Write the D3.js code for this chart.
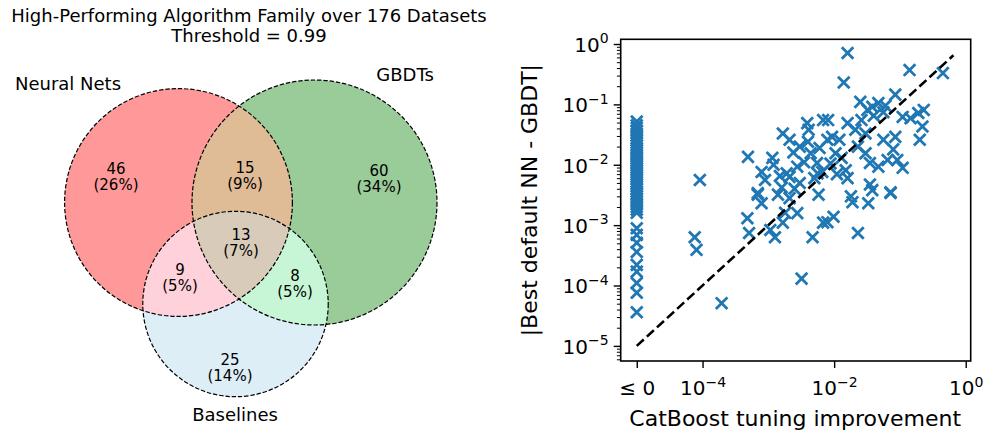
<!DOCTYPE html>
<html>
<head>
<meta charset="utf-8">
<script src="https://cdn.jsdelivr.net/npm/d3@7"></script>
<style>
  body { margin: 0; background: #fff; }
  text { font-family: "DejaVu Sans", sans-serif; fill: #000; }
</style>
</head>
<body>
<svg id="chart" width="985" height="433"></svg>
<script>
// ---------- Venn data
const setNames = ['Neural Nets', 'GBDTs', 'Baselines']
const regionKeys = ['100', '010', '001', '110', '101', '011', '111']
const regionCounts = [46, 60, 25, 15, 9, 8, 13]
const totalDatasets = 176
const threshold = 0.99

// ---------- Scatter data: [CatBoost tuning improvement, |best default NN - GBDT|]
// datasets where tuning did not improve (<= 0) only have a gap value
const zeroImprovementGap = [5.2e-2, 4.5e-2, 4.1e-2, 3.7e-2, 3.3e-2, 3.0e-2, 2.7e-2, 2.5e-2,
  2.3e-2, 2.1e-2, 1.9e-2, 1.75e-2, 1.6e-2, 1.45e-2, 1.35e-2, 1.25e-2, 1.15e-2, 1.05e-2,
  9.6e-3, 8.8e-3, 8.1e-3, 7.4e-3, 6.8e-3, 6.2e-3, 5.7e-3, 5.2e-3, 4.8e-3, 4.4e-3, 4.0e-3,
  3.6e-3, 3.3e-3, 3.0e-3, 2.7e-3, 2.45e-3, 2.2e-3, 2.0e-3, 1.8e-3, 1.6e-3,
  8.9e-4, 6.9e-4, 5.1e-4, 3.6e-4, 2.2e-4, 1.7e-4, 1.1e-4, 7.6e-5, 3.6e-5]
const tunedPoints = [
  [9.1e-5, 5.6e-3], [7.6e-5, 6.3e-4], [8.1e-5, 3.9e-4], [1.95e-4, 5.1e-5], [3.2e-3, 1.3e-4],
  [4.8e-4, 1.3e-3], [5.1e-4, 7.4e-4], [1.07e-3, 8.3e-4], [1.26e-3, 6.3e-4], [1.66e-3, 1.1e-3],
  [2.75e-3, 1.58e-3], [4.7e-3, 6.3e-4], [6.8e-3, 1.1e-3], [6.9e-4, 3.2e-3], [7.9e-4, 2.3e-3],
  [1.4e-3, 3.2e-3], [2.1e-3, 2.8e-3], [5.8e-3, 3.2e-3], [7.9e-3, 1.12e-3], [9.8e-3, 1.38e-3],
  [1.9e-2, 2.4e-3], [3.3e-2, 2.3e-3], [7.2e-2, 3.4e-3], [2.3e-2, 7.4e-4], [3.8e-2, 3.8e-3],
  [4.9e-4, 1.35e-2], [1.15e-3, 1.3e-2], [1.66e-3, 3.3e-2], [7.9e-4, 7.6e-3], [8.9e-4, 5.6e-3],
  [6.9e-4, 3.4e-3], [3.9e-3, 4.9e-2], [6.8e-3, 5.5e-2], [2.1e-3, 2.6e-2], [3.0e-3, 2.0e-2],
  [1.9e-3, 7.2e-3], [2.75e-3, 9.3e-3], [4.4e-3, 1.55e-2], [5.5e-3, 1.07e-2], [6.6e-3, 7.6e-3],
  [3.0e-3, 5.0e-3], [4.1e-3, 3.8e-2], [7.9e-3, 2.6e-2], [1.6e-3, 4.2e-3], [2.1e-3, 6.3e-3],
  [1.6e-2, 0.71], [1.4e-2, 0.23], [0.14, 0.37], [0.45, 0.33], [2.5e-2, 0.11],
  [3.8e-2, 9.1e-2], [4.7e-2, 0.105], [8.5e-2, 0.145], [5.6e-2, 7.4e-2], [3.2e-2, 8.1e-2],
  [0.19, 7.2e-2], [0.145, 5.9e-2], [0.23, 8.1e-2], [0.22, 4.3e-2], [0.20, 2.6e-2],
  [0.11, 6.2e-2], [8.1e-3, 5.5e-2], [1.6e-2, 4.9e-2], [9.3e-3, 2.9e-2], [1.2e-2, 2.6e-2],
  [2.1e-2, 3.8e-2], [3.0e-2, 3.3e-2], [2.3e-2, 2.0e-2], [3.0e-2, 1.55e-2], [5.6e-2, 2.6e-2],
  [8.5e-2, 2.9e-2], [7.9e-2, 1.8e-2], [9.1e-2, 1.2e-2], [0.11, 8.9e-3], [6.5e-2, 1.2e-2],
  [4.7e-2, 9.3e-3], [3.5e-2, 1.07e-2], [1.5e-2, 8.1e-3], [1.6e-2, 6.0e-3], [3.5e-2, 4.7e-3],
  [7.2e-2, 3.5e-3], [1.8e-2, 3.0e-3], [1.05e-2, 1.55e-2], [5.6e-3, 7.2e-3],
  [1.2e-3, 1.0e-2], [1.5e-3, 6.5e-3], [2.4e-3, 1.6e-2], [3.5e-3, 1.1e-2], [4.0e-3, 2.4e-2],
  [5.0e-3, 6.0e-3], [6.0e-3, 1.9e-2], [2.5e-3, 4.0e-3], [8.8e-3, 1.05e-2], [1.3e-2, 1.3e-2],
  [2.6e-2, 5.5e-2], [4.0e-2, 6.5e-2], [6.0e-2, 9.5e-2], [1.1e-2, 7.0e-3], [1.8e-3, 1.6e-3]
]
const diagonalEnds = [1e-5, 0.65]
const zeroFloor = 1e-5
const xTickValues = [1e-5, 1e-4, 1e-2, 1]
const yTickValues = [1, 1e-1, 1e-2, 1e-3, 1e-4, 1e-5]
const xLabel = 'CatBoost tuning improvement'
const yLabel = '|Best default NN - GBDT|'

const svg = d3.select('#chart')

// ---------- Venn
const setSizes = setNames.map((n, s) =>
  d3.sum(regionKeys.map((k, i) => k[s] === '1' ? regionCounts[i] : 0)))

const vennCenters = [[178.5, 202.5], [314.5, 202.5], [235.5, 304]]
const radius = d3.scaleSqrt().domain([0, d3.max(setSizes)]).range([0, 122.5])
const regionColors = {
  '100': '#ff9999', '010': '#99cc99', '001': '#ddeef6',
  '110': '#dfbb96', '101': '#ffd1da', '011': '#c6f6d5', '111': '#d9cbb9'
}
const regionLabelPos = {
  '100': [116, 168], '010': [379, 170], '001': [230, 359],
  '110': [245, 167], '101': [180, 269], '011': [295, 275], '111': [241, 234]
}
const setLabelPos = [[68, 89.5], [405, 80.5], [235, 420.5]]

const defs = svg.append('defs')
setNames.forEach((n, s) => {
  defs.append('clipPath').attr('id', 'clip' + s)
    .append('circle')
    .attr('cx', vennCenters[s][0]).attr('cy', vennCenters[s][1])
    .attr('r', radius(setSizes[s]))
})

const venn = svg.append('g')
regionKeys.forEach(k => {
  const sets = [0, 1, 2].filter(s => k[s] === '1')
  let g = venn
  sets.slice(1).forEach(s => { g = g.append('g').attr('clip-path', `url(#clip${s})`) })
  const s0 = sets[0]
  g.append('circle')
    .attr('cx', vennCenters[s0][0]).attr('cy', vennCenters[s0][1])
    .attr('r', radius(setSizes[s0]))
    .attr('fill', regionColors[k])
})

venn.selectAll('circle.outline')
  .data(setNames)
  .enter()
  .append('circle')
  .attr('class', 'outline')
  .attr('cx', (d, s) => vennCenters[s][0])
  .attr('cy', (d, s) => vennCenters[s][1])
  .attr('r', (d, s) => radius(setSizes[s]))
  .attr('fill', 'none')
  .attr('stroke', '#000')
  .attr('stroke-width', 1.2)
  .attr('stroke-dasharray', '4.4,1.9')

regionKeys.forEach((k, i) => {
  const [x, y] = regionLabelPos[k]
  const pct = Math.round(regionCounts[i] / totalDatasets * 100)
  const t = venn.append('text').attr('text-anchor', 'middle').style('font-size', '15px')
  t.append('tspan').attr('x', x).attr('y', y + 5.5).text(regionCounts[i])
  t.append('tspan').attr('x', x).attr('y', y + 22).text(`(${pct}%)`)
})

venn.selectAll('text.setlabel')
  .data(setNames)
  .enter()
  .append('text')
  .attr('class', 'setlabel')
  .attr('x', (d, s) => setLabelPos[s][0])
  .attr('y', (d, s) => setLabelPos[s][1])
  .attr('text-anchor', 'middle')
  .style('font-size', '18px')
  .text(d => d)

const title = svg.append('text').attr('text-anchor', 'middle').style('font-size', '18px')
title.append('tspan').attr('x', 249).attr('y', 21.5)
  .text(`High-Performing Algorithm Family over ${totalDatasets} Datasets`)
title.append('tspan').attr('x', 249).attr('y', 41.5).text(`Threshold = ${threshold}`)

// ---------- Scatter
const plot = { left: 620.7, right: 970.7, top: 39.3, bottom: 361 }
const x = d3.scaleLog().domain([5.7e-6, 1.19]).range([plot.left, plot.right])
const y = d3.scaleLog().domain([5.62e-6, 1.197]).range([plot.bottom, plot.top])

const allPoints = zeroImprovementGap.map(v => [0, v]).concat(tunedPoints)

svg.append('g')
  .selectAll('path')
  .data(allPoints)
  .enter()
  .append('path')
  .attr('transform', d => `translate(${x(Math.max(d[0], zeroFloor))},${y(d[1])})`)
  .attr('d', 'M-5.8,-5.8L5.8,5.8M-5.8,5.8L5.8,-5.8')
  .attr('stroke', '#1f77b4')
  .attr('stroke-width', 2.8)
  .attr('fill', 'none')

const diag = d3.line().x(d => x(d)).y(d => y(d))
svg.append('path')
  .attr('d', diag(diagonalEnds))
  .attr('stroke', '#000')
  .attr('stroke-width', 2.6)
  .attr('stroke-dasharray', '9.5,4.2')
  .attr('fill', 'none')

// minor y ticks
svg.append('g')
  .attr('transform', `translate(${plot.left},0)`)
  .call(d3.axisLeft(y).tickValues(y.ticks().filter(v => !yTickValues.includes(v)))
    .tickSize(3.8).tickFormat(''))
  .call(g => g.select('.domain').remove())
  .selectAll('line').attr('stroke-width', 1)

const supLabel = (sel, v, isX) => {
  if (isX && v === zeroFloor) {
    sel.text('≤ 0')
    return
  }
  const e = Math.round(Math.log10(v))
  sel.append('tspan').text('10')
  sel.append('tspan').attr('dy', -8.5).style('font-size', '14px')
    .text(e < 0 ? '\u2212' + (-e) : String(e))
}

const yAxis = svg.append('g')
  .attr('transform', `translate(${plot.left},0)`)
  .call(d3.axisLeft(y).tickValues(yTickValues).tickSize(7).tickFormat(''))
yAxis.select('.domain').remove()
yAxis.selectAll('line').attr('stroke-width', 1.4)
yAxis.selectAll('.tick').each(function (v) {
  const t = d3.select(this).append('text')
    .attr('x', -12).attr('y', 7.3)
    .attr('text-anchor', 'end')
    .style('font-size', '20px')
  supLabel(t, v, false)
})

const xAxis = svg.append('g')
  .attr('transform', `translate(0,${plot.bottom})`)
  .call(d3.axisBottom(x).tickValues(xTickValues).tickSize(7).tickFormat(''))
xAxis.select('.domain').remove()
xAxis.selectAll('line').attr('stroke-width', 1.4)
xAxis.selectAll('.tick').each(function (v) {
  const t = d3.select(this).append('text')
    .attr('x', 0).attr('y', 34)
    .attr('text-anchor', 'middle')
    .style('font-size', '20px')
  supLabel(t, v, true)
})

svg.append('rect')
  .attr('x', plot.left).attr('y', plot.top)
  .attr('width', plot.right - plot.left).attr('height', plot.bottom - plot.top)
  .attr('fill', 'none').attr('stroke', '#000').attr('stroke-width', 1.6)

svg.append('text')
  .attr('x', (plot.left + plot.right) / 2 - 0.5).attr('y', 426)
  .attr('text-anchor', 'middle')
  .style('font-size', '22px')
  .text(xLabel)

svg.append('text')
  .attr('transform', `translate(537,${(plot.top + plot.bottom) / 2}) rotate(-90)`)
  .attr('text-anchor', 'middle')
  .style('font-size', '22px')
  .text(yLabel)
</script>
</body>
</html>
